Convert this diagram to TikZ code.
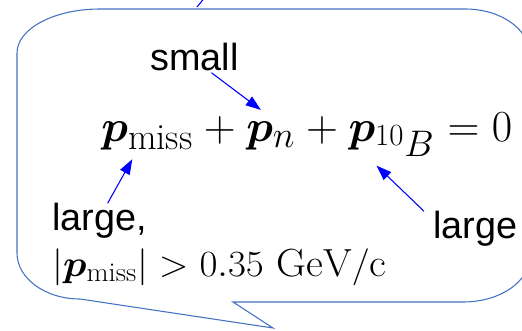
\documentclass[tikz,border=0pt]{standalone}
\usepackage{fontspec}
\usepackage{bm}
\newfontfamily\lblfont{Liberation Sans}
\DeclareMathSizes{22}{22}{15.2}{12.1}
\usetikzlibrary{positioning,calc,arrows.meta}
\definecolor{boxblue}{RGB}{68,114,196}
\definecolor{ptrblue}{RGB}{0,0,255}

\begin{document}
\begin{tikzpicture}[x=0.561pt, y=-0.561pt,
    callout/.style={draw=boxblue, line width=0.6pt},
    eqn/.style={inner sep=0pt, font=\Huge},
    lbl/.style={inner sep=0pt, font=\fontsize{21.2}{25}\lblfont, anchor=base west},
    ptrline/.style={ptrblue, line width=0.6pt},
    ptr/.style={ptrline, -{Triangle[length=8.5pt, width=6pt]}}]
    \useasboundingbox (0,0) rectangle (522,330);
    \clip (0,0) rectangle (522,330);

    % callout box
    \draw[callout] (100,9) -- (465,9)
        arc[start angle=270, end angle=360, x radius=64, y radius=44] -- (529,258)
        arc[start angle=0, end angle=90, x radius=66, y radius=44] -- (233,302)
        -- (273,328) -- (80,299)
        arc[start angle=90, end angle=180, x radius=63, y radius=46] -- (17,53)
        arc[start angle=180, end angle=270, x radius=83, y radius=44] -- cycle;

    % line coming in from above
    \coordinate (inA) at (197,7);
    \coordinate (inB) at (215,-15);
    \draw[ptrline] (inA) -- (inB);

    % momentum balance
    \node[eqn, anchor=base west] (pmiss) at (101,141) {$\bm{p}_{\mathrm{miss}}$};
    \node[eqn, base right=5.53pt of pmiss] (plusA) {$+$};
    \node[eqn, base right=5.53pt of plusA] (pn) {$\bm{p}_{n}$};
    \node[eqn, base right=5.53pt of pn] (plusB) {$+$};
    \node[eqn, base right=5.53pt of plusB] (pB) {$\bm{p}_{{}^{10}B}$};
    \node[eqn, base right=6.91pt of pB] (zero) {$=0$};

    % condition
    \node[inner sep=0pt, font=\fontsize{22}{27}\selectfont, anchor=base west] (cond) at (52,276)
        {\scalebox{1.055}[1]{$|\bm{p}_{\mathrm{miss}}| > 0.35\ \mathrm{GeV/c}$}};

    % labels
    \node[lbl] (small) at (150,70) {small};
    \node[lbl] (largeA) at (52,230) {large,};
    \node[lbl] (largeB) at (433,238) {large};

    % pointers
    \draw[ptr] ($(small.south)+(17,2)$) -- ($(pn.north)+(-10,-11)$);
    \draw[ptr] ($(largeA.north)+(8,1)$) -- ($(pmiss.south)+(-15,9)$);
    \draw[ptr] ($(largeB.north west)+(-9,1)$) -- ($(pB.south)+(-15,9)$);
\end{tikzpicture}
\end{document}
